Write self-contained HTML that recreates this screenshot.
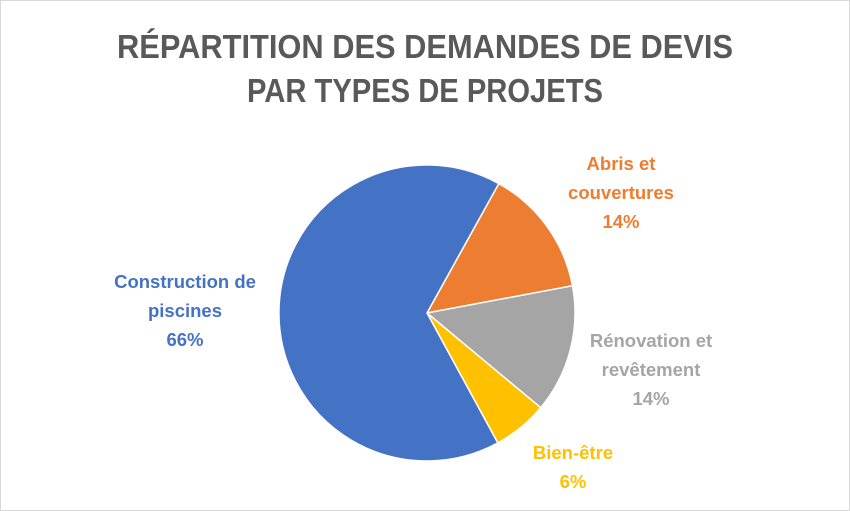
<!DOCTYPE html>
<html><head><meta charset="utf-8"><style>body{margin:0;background:#fff}svg{display:block}</style></head><body>
<svg width="850" height="511" xmlns="http://www.w3.org/2000/svg" font-family="'Liberation Sans', sans-serif" font-weight="bold">
<rect x="0.5" y="0.5" width="849" height="510" fill="#fff" stroke="#d9d9d9"/>
<text x="425" y="58" text-anchor="middle" font-size="33" fill="#595959" textLength="616" lengthAdjust="spacingAndGlyphs">RÉPARTITION DES DEMANDES DE DEVIS</text>
<text x="425" y="102" text-anchor="middle" font-size="33" fill="#595959" textLength="356" lengthAdjust="spacingAndGlyphs">PAR TYPES DE PROJETS</text>
<g stroke="#fff" stroke-width="1.5">
<path d="M427,313 L498.8,183.6 A148,148 0 0 1 572.5,285.8 Z" fill="#ED7D31"/>
<path d="M427,313 L572.5,285.8 A148,148 0 0 1 540.7,407.7 Z" fill="#A5A5A5"/>
<path d="M427,313 L540.7,407.7 A148,148 0 0 1 497.8,442.9 Z" fill="#FFC000"/>
<path d="M427,313 L497.8,442.9 A148,148 0 1 1 498.8,183.6 Z" fill="#4472C4"/>
</g>
<g font-size="18.5" text-anchor="middle">
<g fill="#4472C4"><text x="185" y="288">Construction de</text><text x="185" y="317">piscines</text><text x="185" y="346">66%</text></g>
<g fill="#ED7D31"><text x="621" y="170">Abris et</text><text x="621" y="199">couvertures</text><text x="621" y="228">14%</text></g>
<g fill="#A5A5A5"><text x="651" y="347">Rénovation et</text><text x="651" y="376">revêtement</text><text x="651" y="405">14%</text></g>
<g fill="#FFC000"><text x="573" y="459">Bien-être</text><text x="573" y="488">6%</text></g>
</g>
</svg>
</body></html>
